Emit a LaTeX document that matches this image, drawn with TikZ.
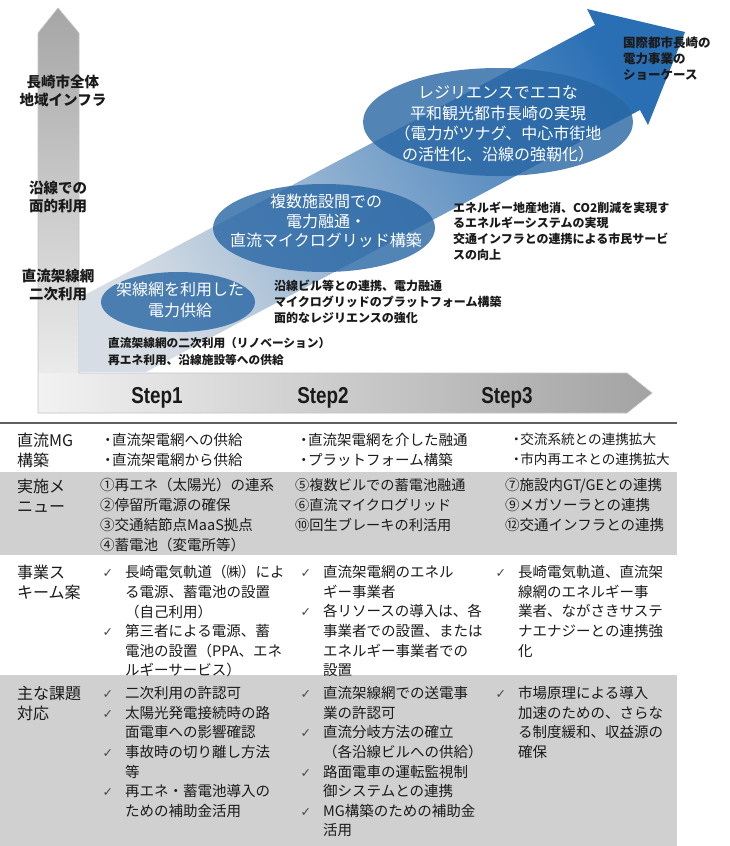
\documentclass[tikz,border=0pt]{standalone}
\usepackage{fontspec}
\setmainfont{Noto Sans CJK JP}
\newfontfamily\ckfont{DejaVu Sans}
\newfontfamily\stepfont[FakeStretch=0.82]{Liberation Sans}
\usetikzlibrary{shapes.geometric}
\definecolor{vtop}{HTML}{A6A6A6}
\definecolor{vbot}{HTML}{F2F2F2}
\definecolor{hleft}{HTML}{F2F2F2}
\definecolor{hright}{HTML}{A3A3A3}
\definecolor{lborder}{HTML}{C4C4C4}
\definecolor{bandlo}{HTML}{D6DDE4}
\definecolor{bandmid}{HTML}{8AA4BD}
\definecolor{bandhi}{HTML}{2A6FB4}
\definecolor{ellblue}{HTML}{2866A4}
\definecolor{rowgray}{HTML}{D0D0D0}
\definecolor{rulegray}{HTML}{606060}
\definecolor{txt}{HTML}{1A1A1A}
\newcommand\ck{\llap{{\ckfont\fontsize{12.5}{12.5}\selectfont\color{txt!80}✓}\hspace{12pt}}}
\newcommand\dotmark{・\hspace{-3pt}}
\begin{document}
\begin{tikzpicture}[x=1pt,y=-1pt,
  ax/.style={font=\bfseries\fontsize{14.5}{18}\selectfont, align=center, inner sep=0, anchor=north, text=txt},
  desc/.style={font=\bfseries\fontsize{12}{16}\selectfont, align=left, inner sep=0, anchor=north west, text=txt},
  etext/.style={font=\fontsize{16}{20.5}\selectfont, text=white, align=center, inner sep=0},
  bubble/.style={ellipse, fill=ellblue, fill opacity=0.8, draw=none, inner sep=0},
  steplab/.style={font=\stepfont\bfseries\fontsize{23}{23}\selectfont, text=txt, inner sep=0},
  rowhead/.style={font=\fontsize{16}{20.5}\selectfont, align=left, inner sep=0, anchor=north west, text=txt},
  cell/.style={font=\fontsize{14.5}{19.6}\selectfont, align=left, inner sep=0, anchor=north west, text=txt},
  rowfill/.style={fill=rowgray, draw=none}
]
\useasboundingbox (0,0) rectangle (729,846);
\fill[white] (0,0) rectangle (729,846);

% L-shaped gray axes
\shade[top color=vtop, bottom color=vbot] (38,413) -- (38,33) -- (58,8) -- (79,33) -- (79,413) -- cycle;
\shade[left color=hleft, right color=hright] (38,373) -- (627,373) -- (652,393) -- (627,413) -- (38,413) -- cycle;
\draw[lborder, line width=0.6pt] (38,413) -- (38,33) -- (58,8) -- (79,33) -- (79,373) -- (627,373) -- (652,393) -- (627,413) -- cycle;

% big blue arrow
\shade[bottom color=bandlo, middle color=bandmid, top color=bandhi, shading angle=-62]
  (79,298) -- (595,25) -- (587,9) -- (685,32) -- (648,125) -- (640,110) -- (146,372) -- (79,372) -- cycle;

% ellipses
\node[bubble, minimum width=154pt, minimum height=60pt] (e1) at (178,302) {};
\node[bubble, minimum width=222pt, minimum height=88pt] (e2) at (324,228) {};
\node[bubble, minimum width=270pt, minimum height=108pt] (e3) at (498,122) {};
\node[etext] (t1) at (180,300) {架線網を利用した\\電力供給};
\node[etext, font=\fontsize{16}{19.5}\selectfont] (t2) at (326,221) {複数施設間での\\電力融通・\\直流マイクログリッド構築};
\node[etext] (t3) at (498,124) {レジリエンスでエコな\\平和観光都市長崎の実現\\（電力がツナグ、中心市街地\\の活性化、沿線の強靭化）};

% axis labels
\node[ax] (lab1) at (63,75) {長崎市全体\\地域インフラ};
\node[ax] (lab2) at (58,181) {沿線での\\面的利用};
\node[ax] (lab3) at (58,269) {直流架線網\\二次利用};

% descriptions
\node[desc, font=\bfseries\fontsize{11.7}{17}\selectfont] (d1) at (108,337.5) {直流架線網の二次利用（リノベーション）\\再エネ利用、沿線施設等への供給};
\node[desc] (d2) at (274,279.5) {沿線ビル等との連携、電力融通\\マイクログリッドのプラットフォーム構築\\面的なレジリエンスの強化};
\node[desc, font=\bfseries\fontsize{12}{15.7}\selectfont] (d3) at (453,201.5) {エネルギー地産地消、CO2削減を実現す\\るエネルギーシステムの実現\\交通インフラとの連携による市民サービ\\スの向上};
\node[desc, font=\bfseries\fontsize{12.5}{16}\selectfont] (d4) at (623,36.3) {国際都市長崎の\\電力事業の\\ショーケース};

% steps
\node[steplab] (s1) at (157,397.5) {Step1};
\node[steplab] (s2) at (323,397.5) {Step2};
\node[steplab] (s3) at (507,397.5) {Step3};

% table
\fill[rowfill] (0,472) rectangle (677,555);
\fill[rowfill] (0,675) rectangle (677,846);
\draw[rulegray, line width=1.5pt] (0,423) -- (677,423);

\node[rowhead] (h1) at (17,432.6) {直流MG\\構築};
\node[rowhead] (h2) at (17,478.6) {実施メ\\ニュー};
\node[rowhead] (h3) at (17,564.6) {事業ス\\キーム案};
\node[rowhead] (h4) at (17,685.6) {主な課題\\対応};

\node[cell] (c11) at (100.5,433.3) {\dotmark 直流架電網への供給\\\dotmark 直流架電網から供給};
\node[cell] (c12) at (296.5,433.3) {\dotmark 直流架電網を介した融通\\\dotmark プラットフォーム構築};
\node[cell, font=\fontsize{13.6}{19.6}\selectfont] (c13) at (509.5,433.3) {\dotmark 交流系統との連携拡大\\\dotmark 市内再エネとの連携拡大};

\node[cell, font=\fontsize{14.5}{20}\selectfont] (c21) at (100,478.3) {①再エネ（太陽光）の連系\\②停留所電源の確保\\③交通結節点MaaS拠点\\④蓄電池（変電所等）};
\node[cell, font=\fontsize{14.2}{20}\selectfont] (c22) at (295,478.3) {⑤複数ビルでの蓄電池融通\\⑥直流マイクログリッド\\⑩回生ブレーキの利活用};
\node[cell, font=\fontsize{14.5}{20}\selectfont] (c23) at (505,478.3) {⑦施設内GT/GEとの連携\\⑨メガソーラとの連携\\⑫交通インフラとの連携};

\node[cell] (c31) at (125,565.3) {\ck 長崎電気軌道（㈱）によ\\る電源、蓄電池の設置\\（自己利用）\\\ck 第三者による電源、蓄\\電池の設置（PPA、エネ\\ルギーサービス）};
\node[cell] (c32) at (323,565.3) {\ck 直流架電網のエネル\\ギー事業者\\\ck 各リソースの導入は、各\\事業者での設置、または\\エネルギー事業者での\\設置};
\node[cell] (c33) at (518,565.3) {\ck 長崎電気軌道、直流架\\線網のエネルギー事\\業者、ながさきサステ\\ナエナジーとの連携強\\化};

\node[cell] (c41) at (125,686.3) {\ck 二次利用の許認可\\\ck 太陽光発電接続時の路\\面電車への影響確認\\\ck 事故時の切り離し方法\\等\\\ck 再エネ・蓄電池導入の\\ための補助金活用};
\node[cell] (c42) at (323,686.3) {\ck 直流架線網での送電事\\業の許認可\\\ck 直流分岐方法の確立\\（各沿線ビルへの供給）\\\ck 路面電車の運転監視制\\御システムとの連携\\\ck MG構築のための補助金\\活用};
\node[cell] (c43) at (518,686.3) {\ck 市場原理による導入\\加速のための、さらな\\る制度緩和、収益源の\\確保};
\end{tikzpicture}
\end{document}
